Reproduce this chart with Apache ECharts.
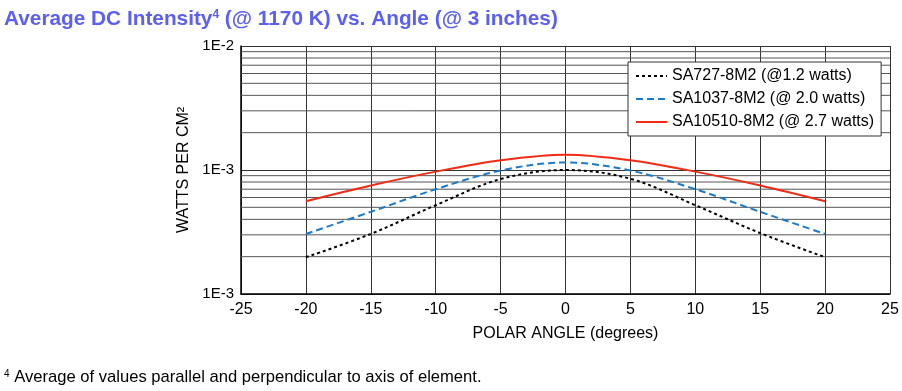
<!DOCTYPE html>
<html>
<head>
<meta charset="utf-8">
<script src="https://cdn.jsdelivr.net/npm/echarts@6/dist/echarts.min.js"></script>
<style>
html,body{margin:0;padding:0;background:#fff;}
#chart{width:902px;height:391px;}
</style>
</head>
<body>
<div id="chart"></div>
<script>
const angles = [-20, -15, -10, -5, 0, 5, 10, 15, 20];
const sa727 = [1.98e-4, 3.05e-4, 5.2e-4, 8.45e-4, 1.0e-3, 8.5e-4, 5.2e-4, 3.1e-4, 1.98e-4];
const sa1037 = [3.05e-4, 4.6e-4, 7.0e-4, 9.9e-4, 1.15e-3, 9.9e-4, 7.0e-4, 4.6e-4, 3.05e-4];
const sa10510 = [5.6e-4, 7.5e-4, 9.7e-4, 1.2e-3, 1.33e-3, 1.2e-3, 9.7e-4, 7.5e-4, 5.6e-4];
const seriesNames = ['SA727-8M2 (@1.2 watts)', 'SA1037-8M2 (@ 2.0 watts)', 'SA10510-8M2 (@ 2.7 watts)'];
const yTickLabels = { '-4': '1E-3', '-3': '1E-3', '-2': '1E-2' };
const minorGridValues = [2e-4,3e-4,4e-4,5e-4,6e-4,7e-4,8e-4,9e-4,2e-3,3e-3,4e-3,5e-3,6e-3,7e-3,8e-3,9e-3];
const xRange = [-25, 25];

const chart = echarts.init(document.getElementById('chart'));
const font = '"Liberation Sans", Arial, sans-serif';
const pair = arr => angles.map((a, i) => [a, arr[i]]);

const gridData = [];
minorGridValues.forEach(v => { gridData.push([xRange[0], v], [xRange[1], v], '-'); });

chart.setOption({
  animation: false,
  backgroundColor: '#fff',
  title: [{
    text: '{t|Average DC Intensity}{s|4}{t| (@ 1170 K) vs. Angle (@ 3 inches)}',
    left: 4, top: 9, padding: 0,
    textStyle: {
      rich: {
        t: { fontFamily: font, fontSize: 20.8, fontWeight: 'bold', color: '#5b5ff2' },
        s: { fontFamily: font, fontSize: 12, fontWeight: 'bold', color: '#5b5ff2', verticalAlign: 'top', padding: [0, 0, 9, 0] }
      }
    }
  }, {
    text: '{s|4}{t| Average of values parallel and perpendicular to axis of element.}',
    left: 4, top: 369, padding: 0,
    textStyle: {
      fontWeight: 'normal',
      rich: {
        t: { fontFamily: font, fontSize: 16.6, fontWeight: 'normal', color: '#000' },
        s: { fontFamily: font, fontSize: 10, fontWeight: 'normal', color: '#000', verticalAlign: 'top', padding: [0, 0, 7, 0] }
      }
    }
  }],
  legend: {
    orient: 'vertical',
    left: 628, top: 62,
    backgroundColor: '#fff',
    borderColor: '#333',
    borderWidth: 1,
    borderRadius: 0,
    padding: [6, 7, 6, 7],
    itemWidth: 31, itemHeight: 16, itemGap: 7,
    itemStyle: { opacity: 0 },
    textStyle: { fontFamily: font, fontSize: 16, color: '#000' },
    data: seriesNames
  },
  grid: { left: 241, right: 12, top: 46, bottom: 97, containLabel: false },
  xAxis: {
    type: 'value', min: xRange[0], max: xRange[1], interval: 5,
    name: 'POLAR ANGLE (degrees)', nameLocation: 'middle', nameGap: 32,
    nameTextStyle: { fontFamily: font, fontSize: 16, color: '#000' },
    axisLine: { show: true, onZero: false, lineStyle: { color: '#000', width: 1.5 } },
    axisTick: { show: false },
    axisLabel: { fontFamily: font, fontSize: 16, color: '#000', margin: 8 },
    splitLine: { show: true, lineStyle: { color: '#333', width: 1 } }
  },
  yAxis: {
    type: 'log', logBase: 10, min: 1e-4, max: 1e-2,
    name: 'WATTS PER CM²', nameLocation: 'middle', nameGap: 46, nameRotate: 90,
    nameTextStyle: { fontFamily: font, fontSize: 16, color: '#000' },
    axisLine: { show: true, onZero: false, lineStyle: { color: '#000', width: 1.5 } },
    axisTick: { show: false },
    axisLabel: {
      fontFamily: font, fontSize: 15, color: '#000', margin: 7,
      formatter: v => yTickLabels[String(Math.round(Math.log10(v)))] || ''
    },
    splitLine: { show: true, lineStyle: { color: '#333', width: 1 } }
  },
  series: [{
    name: 'minorGrid', type: 'line', data: gridData, symbol: 'none', silent: true,
    connectNulls: false, lineStyle: { color: '#555', width: 1 }, z: 1
  }, {
    name: seriesNames[0], type: 'line', data: pair(sa727), smooth: 0.35, symbol: 'none',
    lineStyle: { color: '#000', width: 2, type: [3, 3] }, itemStyle: { color: '#000' }, z: 3
  }, {
    name: seriesNames[1], type: 'line', data: pair(sa1037), smooth: 0.35, symbol: 'none',
    lineStyle: { color: '#1c7bc9', width: 2, type: [7, 4] }, itemStyle: { color: '#1c7bc9' }, z: 4
  }, {
    name: seriesNames[2], type: 'line', data: pair(sa10510), smooth: 0.35, symbol: 'none',
    lineStyle: { color: '#f42a14', width: 2, type: 'solid' }, itemStyle: { color: '#f42a14' }, z: 5
  }]
});
</script>
</body>
</html>
